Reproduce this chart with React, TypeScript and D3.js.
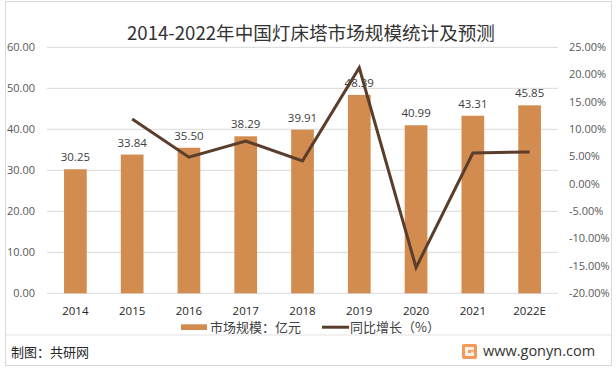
import React from "react";
import * as d3 from "d3";

const categories = ["2014", "2015", "2016", "2017", "2018", "2019", "2020", "2021", "2022E"];
const marketSize = [30.25, 33.84, 35.5, 38.29, 39.91, 48.39, 40.99, 43.31, 45.85];
const growth: (number | null)[] = [null, 11.87, 4.91, 7.86, 4.23, 21.25, -15.29, 5.66, 5.86];
const leftTicks = [0, 10, 20, 30, 40, 50, 60];
const rightTicks = [-20, -15, -10, -5, 0, 5, 10, 15, 20, 25];

const W = 616;
const H = 370;
const plot = { left: 47, right: 558, top: 47.3, bottom: 293.3 };
const barColor = "#d38c4f";
const lineColor = "#5a3e2b";
const font = "'Noto Sans CJK SC', 'Noto Sans', sans-serif";
const numFont = "'Open Sans', 'Noto Sans', sans-serif";

export default function App() {
  const x = d3.scaleBand<string>().domain(categories).range([plot.left, plot.right]).paddingInner(0.6).paddingOuter(0.3);
  const xc = (c: string) => (x(c) as number) + x.bandwidth() / 2;
  const yL = d3.scaleLinear().domain([0, 60]).range([plot.bottom, plot.top]);
  const yR = d3.scaleLinear().domain([-20, 25]).range([plot.bottom, plot.top]);

  const pts = categories
    .map((c, i) => ({ c, v: growth[i] }))
    .filter((d) => d.v !== null) as { c: string; v: number }[];
  const line = d3
    .line<{ c: string; v: number }>()
    .x((d) => xc(d.c))
    .y((d) => yR(d.v));

  return (
    <svg
      width={W}
      height={H}
      style={{ position: "absolute", left: 0, top: 0, background: "#fff" }}
    >
      <rect x={0} y={0} width={W} height={H} fill="#fff" />
      <rect x={5.5} y={1.5} width={606} height={364} fill="none" stroke="#d9d9d9" strokeWidth={1} />
      <text x={311} y={39.5} textAnchor="middle" fontFamily={font} fontSize={18.6} fill="#333">
        2014-2022年中国灯床塔市场规模统计及预测
      </text>

      {leftTicks.map((t) => (
        <g key={"l" + t}>
          <line x1={plot.left} x2={plot.right} y1={yL(t)} y2={yL(t)} stroke="#d9d9d9" strokeWidth={1} />
          <text x={35} y={yL(t)} dy="0.35em" textAnchor="end" fontFamily={numFont} fontSize={11} fill="#595959">
            {t.toFixed(2)}
          </text>
        </g>
      ))}
      {rightTicks.map((t) => (
        <text key={"r" + t} x={569} y={yR(t)} dy="0.35em" textAnchor="start" fontFamily={numFont} fontSize={11} fill="#595959">
          {t.toFixed(2) + "%"}
        </text>
      ))}

      {categories.map((c, i) => (
        <g key={c}>
          <rect
            x={x(c)}
            y={yL(marketSize[i])}
            width={x.bandwidth()}
            height={yL(0) - yL(marketSize[i])}
            fill={barColor}
          />
          <text x={xc(c)} y={yL(marketSize[i]) - 8} textAnchor="middle" fontFamily={numFont} fontSize={11.5} fill="#404040">
            {marketSize[i].toFixed(2)}
          </text>
          <text x={xc(c)} y={315} textAnchor="middle" fontFamily={numFont} fontSize={11.5} fill="#262626">
            {c}
          </text>
        </g>
      ))}

      <path d={line(pts) || ""} fill="none" stroke={lineColor} strokeWidth={3} strokeLinejoin="miter" />

      <rect x={181} y={324.3} width={26} height={5.7} fill={barColor} />
      <text x={210} y={332} fontFamily={font} fontSize={13} fill="#404040">
        市场规模：亿元
      </text>
      <line x1={322} x2={349} y1={327.2} y2={327.2} stroke={lineColor} strokeWidth={3} />
      <text x={350} y={332} fontFamily={font} fontSize={13} fill="#404040">
        同比增长（%）
      </text>

      <line x1={6} x2={611} y1={335} y2={335} stroke="#e3e3e3" strokeWidth={1} />
      <text x={11} y={357} fontFamily={font} fontSize={13} fill="#262626">
        制图：共研网
      </text>
      <g>
        <rect x={462} y={344} width={15} height={15} rx={2} fill="#f39a5a" />
        <path d="M465 347 h9 v3 h-6 v3 h3 v-1.5 h3 v4.5 h-9 z" fill="#fff" opacity={0.85} />
      </g>
      <text x={483} y={356} fontFamily={numFont} fontSize={14.5} fill="#333">
        www.gonyn.com
      </text>
    </svg>
  );
}
